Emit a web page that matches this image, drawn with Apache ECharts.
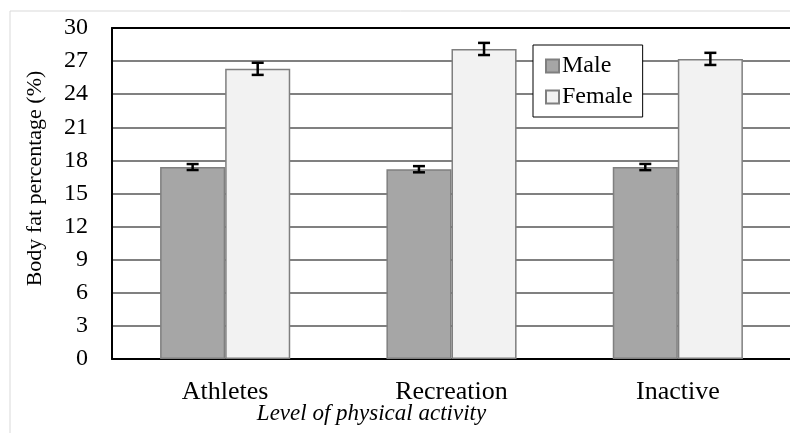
<!DOCTYPE html>
<html>
<head>
<meta charset="utf-8">
<script src="https://cdn.jsdelivr.net/npm/echarts@6/dist/echarts.min.js"></script>
<style>
  html, body { margin: 0; padding: 0; background: #fff; }
  #chart { width: 790px; height: 433px; }
</style>
</head>
<body>
<div id="chart"></div>
<script>
const categories = ['Athletes', 'Recreation', 'Inactive']
const maleValues = [17.4, 17.2, 17.4]
const femaleValues = [26.3, 28.1, 27.2]
const maleErrors = [0.27, 0.28, 0.28]
const femaleErrors = [0.55, 0.55, 0.55]
const yTicks = [0, 3, 6, 9, 12, 15, 18, 21, 24, 27, 30]

const FONT = 'Liberation Serif'
const GAP = 0.425

function errorData(vals, errs) {
  return vals.map((v, i) => [i, v - errs[i], v + errs[i]])
}

function errorSeries(name, vals, errs, side) {
  return {
    type: 'custom',
    name: name + ' error',
    z: 5,
    data: errorData(vals, errs),
    renderItem(params, api) {
      const band = api.size([1, 0])[0]
      const barW = band * (1 - GAP) / 2
      const c = api.coord([api.value(0), 0])
      const x = c[0] + side * barW / 2
      const lo = api.coord([api.value(0), api.value(1)])[1]
      const hi = api.coord([api.value(0), api.value(2)])[1]
      const cap = 6
      const style = { stroke: '#000', lineWidth: 2.5, fill: null }
      return {
        type: 'group',
        children: [
          { type: 'line', shape: { x1: x, y1: lo, x2: x, y2: hi }, style },
          { type: 'line', shape: { x1: x - cap, y1: lo, x2: x + cap, y2: lo }, style },
          { type: 'line', shape: { x1: x - cap, y1: hi, x2: x + cap, y2: hi }, style }
        ]
      }
    }
  }
}

const chart = echarts.init(document.getElementById('chart'))
chart.setOption({
  animation: false,
  textStyle: { fontFamily: FONT, color: '#000' },
  graphic: [
    {
      type: 'rect',
      shape: { x: 10, y: 11, width: 800, height: 450 },
      style: { fill: null, stroke: '#d9d9d9', lineWidth: 1 },
      silent: true,
      z: -10
    }
  ],
  grid: { left: 112, right: -1, top: 28, bottom: 74, outerBoundsMode: 'none', containLabel: false },
  legend: {
    orient: 'vertical',
    left: 533,
    top: 45,
    padding: [9, 10, 8, 12],
    itemGap: 7,
    itemWidth: 13,
    itemHeight: 13,
    backgroundColor: '#fff',
    borderColor: '#000',
    borderWidth: 1,
    data: [
      { name: 'Male', icon: 'rect' },
      { name: 'Female', icon: 'rect' }
    ],
    textStyle: { fontFamily: FONT, fontSize: 24, color: '#000', padding: [0, 0, 0, -2] }
  },
  xAxis: [
    {
      type: 'category',
      data: categories,
      axisTick: { show: false },
      axisLine: { lineStyle: { color: '#000', width: 2 } },
      axisLabel: { fontFamily: FONT, fontSize: 26, color: '#000', margin: 20 },
      name: 'Level of physical activity',
      nameLocation: 'middle',
      nameGap: 43,
      nameMoveOverlap: false,
      nameTextStyle: { fontFamily: FONT, fontSize: 23, fontStyle: 'italic', color: '#000', padding: [0, 160, 0, 0] }
    },
    {
      type: 'category',
      position: 'top',
      data: categories,
      axisTick: { show: false },
      axisLabel: { show: false },
      axisLine: { lineStyle: { color: '#000', width: 2 } }
    }
  ],
  yAxis: {
    type: 'value',
    min: 0,
    max: 30,
    interval: 3,
    axisLine: { show: true, lineStyle: { color: '#000', width: 2 } },
    axisTick: { show: false },
    axisLabel: { fontFamily: FONT, fontSize: 24, color: '#000', margin: 24 },
    splitLine: { lineStyle: { color: '#808080', width: 2 } },
    name: 'Body fat percentage (%)',
    nameLocation: 'middle',
    nameGap: 66,
    nameMoveOverlap: false,
    nameTextStyle: { fontFamily: FONT, fontSize: 22, color: '#000', padding: [0, 0, 0, 30] }
  },
  series: [
    {
      name: 'Male',
      type: 'bar',
      data: maleValues,
      barGap: '0%',
      barCategoryGap: GAP * 100 + '%',
      itemStyle: { color: '#a6a6a6', borderColor: '#7f7f7f', borderWidth: 1.5 }
    },
    {
      name: 'Female',
      type: 'bar',
      data: femaleValues,
      itemStyle: { color: '#f2f2f2', borderColor: '#7f7f7f', borderWidth: 1.5 }
    },
    errorSeries('Male', maleValues, maleErrors, -1),
    errorSeries('Female', femaleValues, femaleErrors, 1)
  ]
})
</script>
</body>
</html>
